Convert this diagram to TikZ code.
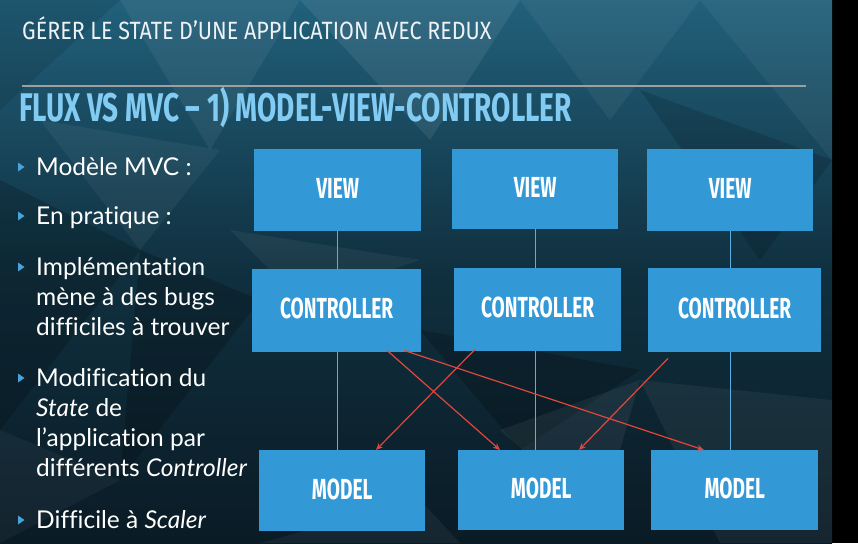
\documentclass[tikz,border=0pt]{standalone}
\usepackage{fontspec}
\setmainfont[Ligatures=NoCommon]{Lato}
\newfontfamily\condfont[FakeStretch=0.66]{Fira Sans}
\newfontfamily\headfont[FakeStretch=0.70]{Fira Sans}
\newfontfamily\titlefont[FakeStretch=0.86]{Fira Sans}
\usetikzlibrary{arrows.meta}
\definecolor{boxblue}{HTML}{3399D6}
\definecolor{linkblue}{HTML}{5AAEE0}
\definecolor{arrowred}{HTML}{E2463C}
\definecolor{headblue}{HTML}{82CBF2}
\definecolor{bgtop}{HTML}{21607B}
\definecolor{bgmid}{HTML}{10303F}
\definecolor{bgbot}{HTML}{0A1B25}
\tikzset{
  mvcbox/.style={fill=boxblue, draw=none, text=white, inner sep=0pt,
    anchor=north west, text depth=4pt,
    font=\condfont\bfseries\fontsize{29}{29}\selectfont},
  bullettext/.style={anchor=base west, inner sep=0pt, text=white,
    font=\fontsize{24.5}{30}\selectfont},
  bulletmark/.style={fill=boxblue!90!white, draw=none},
  link/.style={draw=linkblue, line width=1pt},
  cross/.style={draw=arrowred, line width=1.2pt, -{Stealth[length=7pt,width=6pt]}},
  facet/.style={draw=none}
}
\begin{document}
\begin{tikzpicture}[x=1pt,y=-1pt]
\useasboundingbox (0,0) rectangle (858,543);
% backdrop: dark teal, fading downwards, with a black strip on the right
\fill[black] (0,0) rectangle (858,543);
\shade[top color=bgtop, bottom color=bgbot, middle color=bgmid] (0,0) rectangle (832,543);
% low-poly facets
\fill[facet, white, opacity=0.06] (120,0) -- (300,0) -- (210,150) -- cycle;
\fill[facet, white, opacity=0.08] (300,0) -- (520,0) -- (430,140) -- cycle;
\fill[facet, white, opacity=0.05] (520,0) -- (700,0) -- (610,120) -- cycle;
\fill[facet, black, opacity=0.10] (0,0) -- (120,0) -- (0,110) -- cycle;
\fill[facet, white, opacity=0.05] (700,0) -- (832,0) -- (832,160) -- cycle;
\fill[facet, black, opacity=0.15] (640,90) -- (832,160) -- (760,260) -- cycle;
\fill[facet, black, opacity=0.18] (0,180) -- (140,250) -- (0,430) -- cycle;
\fill[facet, white, opacity=0.05] (40,120) -- (220,150) -- (140,250) -- cycle;
\fill[facet, black, opacity=0.20] (140,250) -- (260,300) -- (120,480) -- cycle;
\fill[facet, black, opacity=0.20] (420,330) -- (640,370) -- (520,450) -- cycle;
\fill[facet, white, opacity=0.06] (500,430) -- (640,380) -- (600,520) -- cycle;
\fill[facet, white, opacity=0.05] (230,230) -- (420,260) -- (300,300) -- cycle;
\fill[facet, white, opacity=0.05] (640,380) -- (832,400) -- (832,543) -- (720,543) -- cycle;
\fill[facet, white, opacity=0.04] (0,430) -- (120,480) -- (0,543) -- cycle;
\fill[facet, white, opacity=0.05] (260,543) -- (420,500) -- (460,543) -- cycle;

% slide header
\node (title) [anchor=base west, inner sep=0pt, text=white!92!bgtop,
  font=\titlefont\fontsize{25}{25}\selectfont] at (22,40)
  {GÉRER LE STATE D’UNE APPLICATION AVEC REDUX};
\coordinate (ruleL) at (22,86);
\coordinate (ruleR) at (806,86);
\draw[gray!75!white, line width=1.6pt] (ruleL) -- (ruleR);
\node (heading) [anchor=base west, inner sep=0pt, text=headblue,
  font=\headfont\bfseries\fontsize{40}{40}\selectfont] at (19,121)
  {FLUX VS MVC – 1) MODEL-VIEW-CONTROLLER};

% bullet list
\foreach \y in {167, 216, 267, 378, 520}
  \fill[bulletmark] (18,\y-4.5) -- (24.5,\y) -- (18,\y+4.5) -- cycle;
\node (b1)  [bullettext] at (36,175) {Modèle MVC :};
\node (b2)  [bullettext] at (36,224) {En pratique :};
\node (b3a) [bullettext] at (36,275) {Implémentation};
\node (b3b) [bullettext] at (36,305) {mène à des bugs};
\node (b3c) [bullettext] at (36,335) {difficiles à trouver};
\node (b4a) [bullettext] at (36,386) {Modification du};
\node (b4b) [bullettext] at (36,416) {\textit{State} de};
\node (b4c) [bullettext] at (36,446) {l’application par};
\node (b4d) [bullettext] at (36,476) {différents \textit{Controller}};
\node (b5)  [bullettext] at (36,528) {Difficile à \textit{Scaler}};

% views
\node (v1) [mvcbox, minimum width=167pt, minimum height=82pt] at (254,149) {VIEW};
\node (v2) [mvcbox, minimum width=166pt, minimum height=80pt] at (452,149) {VIEW};
\node (v3) [mvcbox, minimum width=166pt, minimum height=82pt] at (647,149) {VIEW};
% controllers
\node (c1) [mvcbox, minimum width=169pt, minimum height=83pt] at (252,269) {CONTROLLER};
\node (c2) [mvcbox, minimum width=167pt, minimum height=83pt] at (454,268) {CONTROLLER};
\node (c3) [mvcbox, minimum width=173pt, minimum height=84pt] at (648,268) {CONTROLLER};
% models
\node (m1) [mvcbox, minimum width=166pt, minimum height=81pt] at (259,450) {MODEL};
\node (m2) [mvcbox, minimum width=166pt, minimum height=80pt] at (458,450) {MODEL};
\node (m3) [mvcbox, minimum width=167pt, minimum height=80pt] at (651,450) {MODEL};

% straight view-controller-model links
\foreach \v/\c/\m in {v1/c1/m1, v2/c2/m2, v3/c3/m3}{
  \draw[link] (\v.south) -- (\v.south |- \c.north);
  \draw[link] (\v.south |- \c.south) -- (\v.south |- \m.north);
}

% crossing controller-to-model updates
\draw[cross] ([xshift=135pt,yshift=2pt]c1.south west) -- ([xshift=42pt]m2.north west);
\draw[cross] ([xshift=152pt,yshift=2pt]c1.south west) -- ([xshift=53pt]m3.north west);
\draw[cross] ([xshift=21pt,yshift=2pt]c2.south west) -- ([xshift=117pt]m1.north west);
\draw[cross] ([xshift=20pt,yshift=-6pt]c3.south west) -- ([xshift=121pt]m2.north west);
\end{tikzpicture}
\end{document}
